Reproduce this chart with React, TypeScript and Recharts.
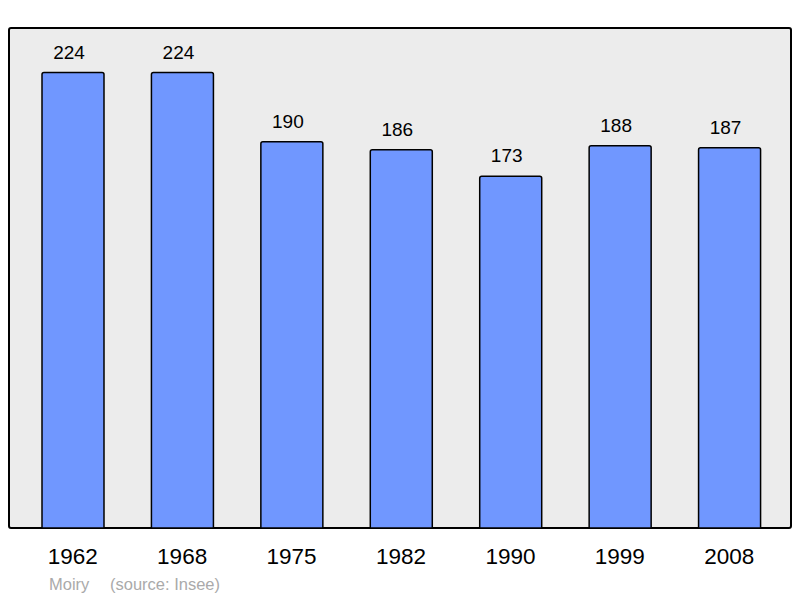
import { BarChart, Bar, XAxis, YAxis, LabelList } from "recharts";

const years = ["1962", "1968", "1975", "1982", "1990", "1999", "2008"];
const population = [224, 224, 190, 186, 173, 188, 187];

const commune = "Moiry";
const source = "(source: Insee)";

const data = years.map((year, i) => ({ year, value: population[i] }));

const font = '"Liberation Sans", Arial, sans-serif';

export default function App() {
  return (
    <div style={{ position: "absolute", left: 0, top: 0, width: 800, height: 598, background: "#fff", fontFamily: font }}>
      <div
        style={{
          position: "absolute",
          left: 8,
          top: 26.5,
          width: 784,
          height: 502,
          boxSizing: "border-box",
          border: "2px solid #000",
          borderRadius: 3,
          background: "#ececec",
        }}
      />
      <div style={{ position: "absolute", left: 0, top: 0 }}>
        <BarChart
          width={800}
          height={598}
          data={data}
          margin={{ top: 27, right: 10, bottom: 40, left: 10 }}
          barCategoryGap={0}
        >
          <XAxis
            dataKey="year"
            height={30}
            axisLine={false}
            tickLine={false}
            tickSize={0}
            tickMargin={20}
            padding={{ left: 8, right: 6 }}
            interval={0}
            tick={{ fontSize: 22.5, fill: "#000", fontFamily: font }}
          />
          <YAxis hide domain={[0, 246.4]} />
          <Bar
            dataKey="value"
            fill="#7097ff"
            stroke="#000"
            strokeWidth={1.5}
            barSize={62}
            radius={[2, 2, 0, 0]}
            isAnimationActive={false}
          >
            <LabelList
              dataKey="value"
              position="top"
              offset={14}
              dx={-4}
              style={{ fontSize: 19, fill: "#000", fontFamily: font }}
            />
          </Bar>
        </BarChart>
      </div>
      <div style={{ position: "absolute", left: 49, top: 576, fontSize: 16.5, lineHeight: 1, color: "#aaa" }}>
        {commune}
      </div>
      <div style={{ position: "absolute", left: 110, top: 576, fontSize: 16.5, lineHeight: 1, color: "#aaa" }}>
        {source}
      </div>
    </div>
  );
}
